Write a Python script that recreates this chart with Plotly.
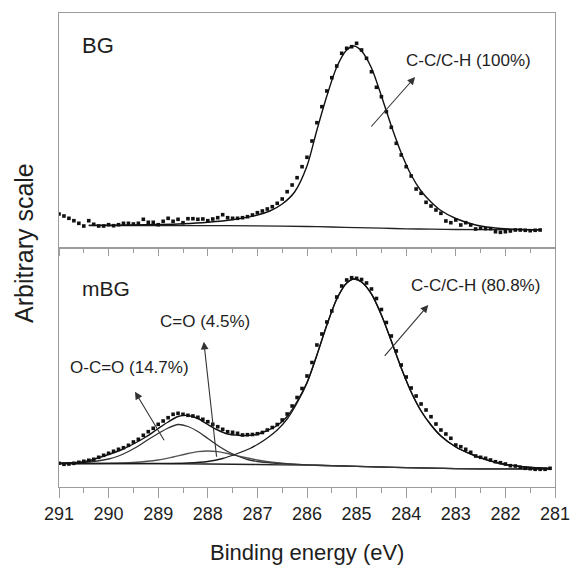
import plotly.graph_objects as go

# ---------------- data ----------------
# measured points, 0.1 eV steps
E_BG = [round(291.0 - 0.1 * i, 1) for i in range(98)]       # 291.0 .. 281.3
E_MBG = [round(291.0 - 0.1 * i, 1) for i in range(100)]     # 291.0 .. 281.1

BG_COUNTS = [
    34, 32, 29.7, 27.3, 24.7, 22, 27.3, 23.7, 22, 22,
    23.3, 22.3, 23.3, 24.7, 24.7, 24, 24.7, 28.7, 25.7, 25.7,
    23.3, 26.7, 29.7, 26.7, 28.7, 25.3, 29.3, 29.3, 28.7, 29,
    27.3, 29, 30.3, 33.3, 30.3, 29.7, 29.7, 30.3, 31.3, 33,
    35.3, 37, 39, 41.3, 44.7, 49, 56.3, 63, 70.3, 81.3,
    90.7, 107, 125.3, 141.3, 157, 170.3, 182, 194.7, 199.7, 201.3,
    204.7, 198, 189.7, 176.3, 160.7, 151.3, 136.3, 120.7, 104.7, 93,
    81.3, 72, 59, 54.7, 45.7, 42, 38, 34.7, 27, 25.3,
    28, 23, 25.3, 23, 19, 19.7, 19.3, 19.3, 16.3, 15.7,
    16.3, 17, 18, 18, 17.7, 17.3, 17.7, 18,
]

MBG_COUNTS = [
    23.7, 22.7, 23, 23.7, 24.7, 25.7, 26.7, 27.7, 29.7, 31.7,
    33.7, 35.7, 37.7, 39.3, 41.7, 45, 47.7, 51.7, 55.3, 58.7,
    62.7, 66, 69.3, 72.7, 73.7, 72.7, 71.7, 71, 69.7, 67.7,
    65.3, 62.7, 60.3, 57.7, 55.3, 54.7, 53.7, 52, 52.3, 52.5,
    53.3, 54.5, 57, 59.5, 62.5, 67, 73, 81, 89.5, 98.5,
    111, 124.5, 142, 153, 165, 176, 190, 201, 207, 209.3,
    208.7, 207.5, 204, 198, 188.5, 177.5, 164.5, 151, 136, 122,
    110, 99, 91, 83, 77, 70.3, 63, 57, 53, 48.7,
    42, 40.3, 37.7, 34.7, 31, 29.7, 28.7, 27, 25.3, 24.3,
    23, 21.3, 21, 19.7, 18.7, 18.3, 17.7, 17.7, 17.7, 18.7,
]

# BG fit: background and C-C/C-H component
BG_BASE_E = [290.4, 288.0, 287.0, 286.0, 285.5, 285.0, 284.5, 284.0, 283.5, 283.0, 282.0, 281.3]
BG_BASE_V = [22.5, 22.4, 22.1, 21.5, 21.0, 20.4, 19.8, 19.2, 18.8, 18.5, 18.3, 18.2]

BG_FIT_E = [290.4, 289.5, 289.0, 288.5, 288.0, 287.5, 287.0, 286.75, 286.5, 286.25, 286.0,
            285.8, 285.6, 285.4, 285.2, 285.05, 284.9, 284.7, 284.5, 284.3, 284.1, 283.9,
            283.7, 283.5, 283.3, 283.0, 282.6, 282.1, 281.3]
BG_FIT_V = [22.6, 23, 23.5, 24.3, 25.8, 28.3, 33, 37, 44, 56, 82,
            118, 152, 181, 198, 202, 197, 180, 152, 122, 95, 73,
            57, 46, 37.5, 29.5, 23, 19.5, 18.2]

# mBG fit: background, three components and envelope
MBG_BASE_E = [291.0, 289.0, 288.0, 287.0, 286.0, 285.5, 285.0, 284.5, 284.0, 283.5, 283.0, 282.0, 281.1]
MBG_BASE_V = [23.5, 23.3, 23.0, 22.5, 21.8, 21.2, 20.6, 20.0, 19.3, 18.8, 18.4, 18.1, 18.0]

OCO_E = [291.0, 290.5, 290.0, 289.8, 289.6, 289.4, 289.2, 289.0, 288.8, 288.6, 288.4, 288.2,
         288.0, 287.8, 287.6, 287.4, 287.2, 287.0, 286.7, 286.4, 286.0, 285.5, 285.0,
         284.0, 283.0, 282.0, 281.1]
OCO_V = [23.6, 24.5, 28, 31, 35.5, 41, 47.5, 53.5, 59, 62.5, 60.5, 55.5,
         48.5, 41.5, 35.5, 31, 27.5, 25.5, 24, 23.0, 22.2, 21.4, 20.7,
         19.3, 18.4, 18.1, 18.0]

CO_E = [291.0, 290.0, 289.5, 289.0, 288.7, 288.4, 288.2, 288.0, 287.8, 287.6, 287.3, 287.0,
        286.7, 286.4, 286.0, 285.5, 285.0, 284.0, 283.0, 282.0, 281.1]
CO_V = [23.5, 23.6, 24.5, 27, 30, 33.5, 35.3, 36, 35.3, 33.5, 30, 27,
        24.8, 23.3, 22, 21.3, 20.6, 19.3, 18.4, 18.1, 18.0]

CC_E = [291.0, 289.0, 288.4, 288.0, 287.7, 287.4, 287.15, 287.0, 286.8, 286.6, 286.4, 286.2,
        286.0, 285.8, 285.6, 285.4, 285.2, 285.05, 284.9, 284.7, 284.5, 284.3, 284.1, 283.9,
        283.7, 283.5, 283.3, 283.0, 282.7, 282.4, 282.1, 281.7, 281.1]
CC_V = [23.5, 23.5, 24, 25.5, 28.5, 33.5, 38.5, 42.5, 49, 57, 68, 84,
        104, 132, 162, 188, 204, 208, 205, 193, 172, 146, 119, 95,
        76, 62, 51, 40, 33, 27.5, 23.5, 20.5, 18.5]

ENV_E = [291.0, 290.5, 290.0, 289.75, 289.5, 289.25, 289.0, 288.8, 288.6, 288.4, 288.2, 288.0,
         287.8, 287.6, 287.4, 287.2, 287.0, 286.8, 286.6, 286.4, 286.2, 286.0, 285.8, 285.6,
         285.4, 285.2, 285.05, 284.9, 284.7, 284.5, 284.3, 284.1, 283.9, 283.7, 283.5, 283.3,
         283.0, 282.7, 282.4, 282.1, 281.7, 281.1]
ENV_V = [23.6, 25.2, 32.5, 37, 43, 50, 58.5, 65, 70.5, 71.5, 68.5, 62.5,
         57, 53, 51.8, 51.5, 52.8, 56.5, 61.5, 70.5, 85.5, 104.5, 132, 162,
         188, 204, 208, 205, 193, 172, 146, 119, 95, 76, 62, 51,
         40, 33, 27.5, 23.5, 20.5, 18.5]

TICKS = [291, 290, 289, 288, 287, 286, 285, 284, 283, 282, 281]

FONT = "Liberation Sans, Arial, sans-serif"
TXT = "#1e1e1e"
FRAME = "#9c9c9c"

fig = go.Figure()


def curve(x, y, xa, ya, color="#1a1a1a", width=1.3):
    fig.add_trace(go.Scatter(x=x, y=y, xaxis=xa, yaxis=ya, mode="lines",
                             line=dict(color=color, width=width, shape="spline", smoothing=0.8),
                             hoverinfo="skip", showlegend=False))


def points(x, y, xa, ya):
    fig.add_trace(go.Scatter(x=x, y=y, xaxis=xa, yaxis=ya, mode="markers",
                             marker=dict(symbol="square", size=3.6, color="#111111",
                                         line=dict(width=0)),
                             showlegend=False))


# BG panel
curve(BG_BASE_E, BG_BASE_V, "x", "y", "#222222", 1.3)
curve(BG_FIT_E, BG_FIT_V, "x", "y", "#111111", 1.4)
points(E_BG, BG_COUNTS, "x", "y")

# mBG panel
curve(MBG_BASE_E, MBG_BASE_V, "x2", "y2", "#222222", 1.3)
curve(CO_E, CO_V, "x2", "y2", "#555555", 1.3)
curve(OCO_E, OCO_V, "x2", "y2", "#333333", 1.3)
curve(CC_E, CC_V, "x2", "y2", "#1a1a1a", 1.3)
curve(ENV_E, ENV_V, "x2", "y2", "#111111", 1.4)
points(E_MBG, MBG_COUNTS, "x2", "y2")

split = (487 - 248) / 474.0

axis_common = dict(range=[291, 281], showgrid=False, zeroline=False, showline=True,
                   linecolor=FRAME, linewidth=1.3, mirror=True, automargin=False,
                   tickmode="array", tickvals=TICKS, tickcolor=FRAME, tickwidth=1.2)

fig.update_layout(
    width=572, height=565, autosize=False,
    margin=dict(l=59, r=17, t=13, b=78, autoexpand=False),
    paper_bgcolor="white", plot_bgcolor="white",
    font=dict(family=FONT, color=TXT),
    xaxis=dict(**axis_common, anchor="y", domain=[0, 1], ticks="outside", ticklen=7,
               showticklabels=False,
               minor=dict(dtick=0.5, tick0=281, ticks="outside", ticklen=4,
                          tickcolor=FRAME, tickwidth=1.1)),
    yaxis=dict(domain=[split, 1], anchor="x", range=[0, 235], showgrid=False, zeroline=False,
               showline=True, linecolor=FRAME, linewidth=1.3, mirror=True, automargin=False,
               ticks="", showticklabels=False),
    xaxis2=dict(**axis_common, anchor="y2", domain=[0, 1], ticks="outside", ticklen=10,
                showticklabels=True, tickfont=dict(size=18, color=TXT, family=FONT),
                minor=dict(dtick=0.5, tick0=281, ticks="outside", ticklen=5,
                           tickcolor=FRAME, tickwidth=1.1)),
    yaxis2=dict(domain=[0, split], anchor="x2", range=[0, 239], showgrid=False,
                zeroline=False, showline=True, linecolor=FRAME, linewidth=1.3, mirror=True,
                automargin=False, ticks="", showticklabels=False),
)

ann = []


def label(text, x, y, xr, yr, size=17):
    ann.append(dict(text=text, x=x, y=y, xref=xr, yref=yr, showarrow=False,
                    xanchor="center", yanchor="middle",
                    font=dict(size=size, color=TXT, family=FONT)))


def arrow(x_tail, y_tail, x_tip, y_tip, xr, yr):
    ann.append(dict(text="", x=x_tip, y=y_tip, ax=x_tail, ay=y_tail,
                    xref=xr, yref=yr, axref=xr, ayref=yr, showarrow=True,
                    arrowhead=2, arrowsize=1.4, arrowwidth=1.1, arrowcolor="#333333",
                    standoff=0, startstandoff=0))


# panel names
label("BG", 290.22, 203, "x", "y", 22)
label("mBG", 290.05, 199, "x2", "y2", 21)

# peak assignments
label("C-C/C-H (100%)", 282.75, 188, "x", "y")
arrow(284.73, 120, 283.82, 171, "x", "y")

label("C-C/C-H (80.8%)", 282.61, 202, "x2", "y2")
arrow(284.46, 129.7, 283.555, 182, "x2", "y2")

label("C=O (4.5%)", 288.06, 166, "x2", "y2")
arrow(287.82, 28.7, 288.08, 145.3, "x2", "y2")

label("O-C=O (14.7%)", 289.57, 120, "x2", "y2")
arrow(288.863, 45.3, 289.468, 95.3, "x2", "y2")

# axis titles
ann.append(dict(text="Binding energy (eV)", x=0.5, y=(487 - 552) / 474.0,
                xref="paper", yref="paper", showarrow=False,
                xanchor="center", yanchor="middle",
                font=dict(size=22, color=TXT, family=FONT)))
ann.append(dict(text="Arbitrary scale", x=(24 - 59) / 496.0, y=(487 - 243) / 474.0,
                xref="paper", yref="paper", showarrow=False, textangle=-90,
                xanchor="center", yanchor="middle",
                font=dict(size=25, color=TXT, family=FONT)))

fig.update_layout(annotations=ann)

fig.write_html("out.html")
